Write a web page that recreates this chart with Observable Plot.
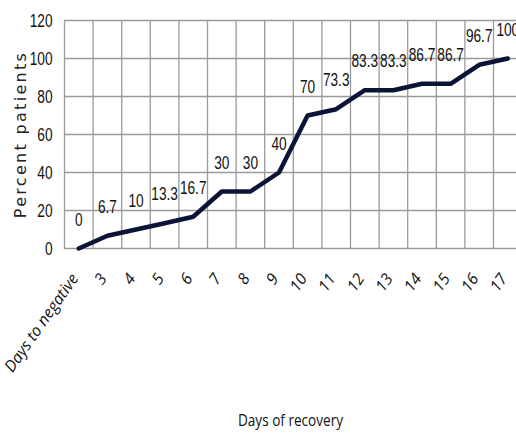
<!DOCTYPE html>
<html>
<head>
<meta charset="utf-8">
<script src="https://cdn.jsdelivr.net/npm/d3@7"></script>
<script src="https://cdn.jsdelivr.net/npm/@observablehq/plot@0.6"></script>
<style>
  html, body { margin: 0; padding: 0; background: #fff; }
</style>
</head>
<body>
<div id="chart"></div>
<script>
const categories = ["Days to negative", "3", "4", "5", "6", "7", "8", "9", "10", "11", "12", "13", "14", "15", "16", "17"];
const percents = [0, 6.7, 10, 13.3, 16.7, 30, 30, 40, 70, 73.3, 83.3, 83.3, 86.7, 86.7, 96.7, 100];
const valueLabels = ["0", "6.7", "10", "13.3", "16.7", "30", "30", "40", "70", "73.3", "83.3", "83.3", "86.7", "86.7", "96.7", "100"];
const yTicks = [0, 20, 40, 60, 80, 100, 120];
const yTitle = "Percent patients";
const xTitle = "Days of recovery";

const rows = categories.map((c, i) => ({i, c, v: percents[i], label: valueLabels[i]}));
const bounds = categories.map((c, i) => i - 0.5).concat([categories.length - 0.5]);

const narrow = "'Liberation Sans', Arial, sans-serif";

const chart = Plot.plot({
  width: 516,
  height: 435,
  marginLeft: 64,
  marginTop: 20,
  marginBottom: 187,
  marginRight: 0,
  x: {type: "linear", domain: [-0.5, categories.length - 0.5], range: [64, 521.6], axis: null},
  y: {domain: [0, 120], range: [248, 20]},
  style: {fontFamily: narrow, background: "#fff", overflow: "hidden"},
  marks: [
    Plot.ruleX(bounds, {x: d => d, stroke: "#9a9a9a", strokeWidth: 1.3, strokeOpacity: 1}),
    Plot.ruleY(yTicks, {y: d => d, stroke: "#9a9a9a", strokeWidth: 1.3, strokeOpacity: 1}),
    Plot.axisY(yTicks, {tickSize: 0, tickPadding: 12, fontSize: 19, fill: "#111", label: null}),
    Plot.text(rows, {x: "i", frameAnchor: "bottom", text: "c", rotate: -55, textAnchor: "end", lineAnchor: "middle", dy: 27, dx: -4, fontSize: 16, fontStyle: "italic", fontFamily: "'Open Sans', 'DejaVu Sans', sans-serif", fill: "#111"}),
    Plot.line(rows, {x: "i", y: "v", stroke: "#0b1437", strokeWidth: 4.5, strokeLinejoin: "round", strokeLinecap: "round"}),
    Plot.text(rows, {x: "i", y: "v", text: "label", dy: -29, fontSize: 19, fill: "#111"}),
    Plot.text([yTitle], {frameAnchor: "left", textAnchor: "middle", rotate: -90, dx: -44, fontSize: 16, fill: "#222", text: d => d}),
    Plot.text([xTitle], {frameAnchor: "bottom", dy: 177, fontSize: 17, fill: "#111", text: d => d})
  ]
});

const svg = d3.select(chart);
const labelSet = new Set(valueLabels);
const tickSet = new Set(yTicks.map(String));
// compress narrow numeric texts (value labels and y ticks)
svg.selectAll("text").each(function() {
  const t = this.getAttribute("transform") || "";
  if (t.includes("rotate")) return;
  const content = this.textContent;
  if (labelSet.has(content) || tickSet.has(content)) {
    d3.select(this).attr("transform", t + " scale(0.72,1)");
  }
});
svg.selectAll("text").filter(function() { return this.textContent === yTitle; })
  .style("letter-spacing", "2.3px").style("font-family", "'DejaVu Sans', sans-serif");
svg.selectAll("text").filter(function() { return this.textContent === xTitle; })
  .style("font-family", "'Open Sans', sans-serif").attr("transform", function() { return (this.getAttribute("transform") || "") + " scale(0.8,1)"; });
document.getElementById("chart").appendChild(chart);
</script>
</body>
</html>
